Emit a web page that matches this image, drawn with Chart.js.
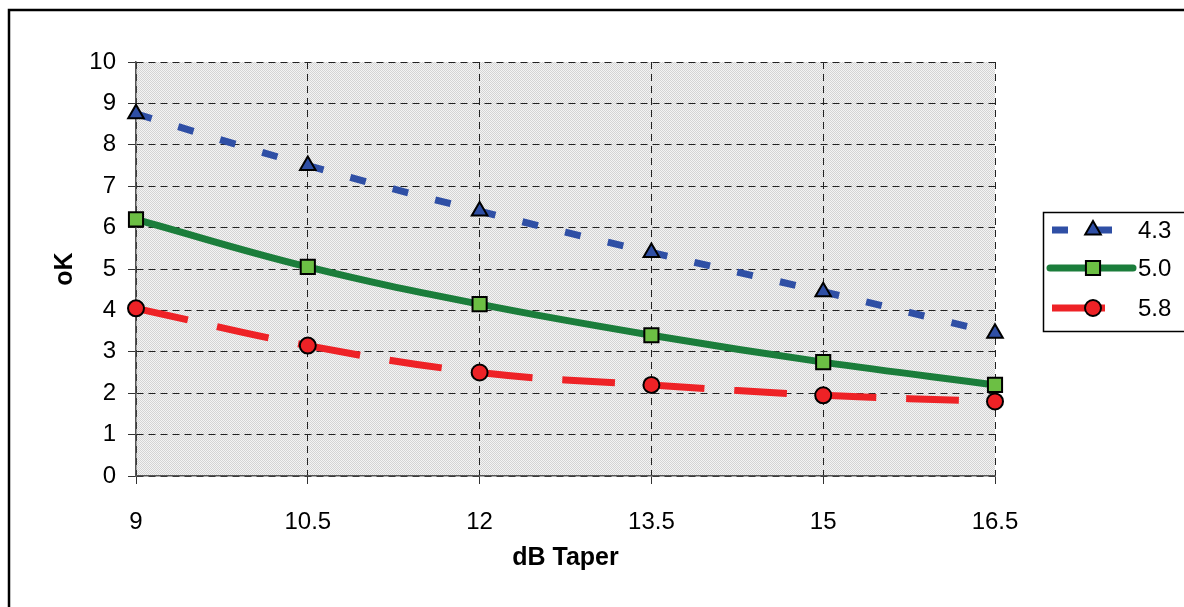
<!DOCTYPE html>
<html>
<head>
<meta charset="utf-8">
<script src="https://cdn.jsdelivr.net/npm/chart.js@4/dist/chart.umd.min.js"></script>
<style>
  html, body { margin: 0; padding: 0; background: #fff; }
  #wrap { position: relative; width: 1184px; height: 607px; }
</style>
</head>
<body>
<div id="wrap"><canvas id="chart" width="1184" height="607"></canvas></div>
<script>
// values
const taper = [9, 10.5, 12, 13.5, 15, 16.5];
const s43 = [8.75, 7.5, 6.4, 5.4, 4.45, 3.45];
const s50 = [6.2, 5.05, 4.15, 3.4, 2.75, 2.2];
const s58 = [4.05, 3.15, 2.5, 2.2, 1.95, 1.8];
const seriesNames = ['4.3', '5.0', '5.8'];
const yTicks = [0, 1, 2, 3, 4, 5, 6, 7, 8, 9, 10];

const FONT = '"Liberation Sans", Arial, sans-serif';

function pts(vals) {
    return vals.map((v, i) => ({ x: taper[i], y: v }));
}

// halftone-ish plot background
function makePattern(ctx) {
    const c = document.createElement('canvas');
    c.width = 2; c.height = 2;
    const p = c.getContext('2d');
    p.fillStyle = '#f4f4f4'; p.fillRect(0, 0, 2, 2);
    p.fillStyle = '#d4d4d4'; p.fillRect(0, 0, 1, 1); p.fillRect(1, 1, 1, 1);
    return ctx.createPattern(c, 'repeat');
}

// restart the dash at every point, like the original
const restartDash = { borderDashOffset: c => c.p0DataIndex * 0.001 };

const frame = {
    id: 'frame',
    beforeDraw(chart) {
        const { ctx, chartArea: a } = chart;
        ctx.save();
        ctx.fillStyle = makePattern(ctx);
        ctx.fillRect(a.left, a.top, a.right - a.left, a.bottom - a.top);
        ctx.strokeStyle = '#000';
        ctx.lineWidth = 2.5;
        ctx.beginPath();
        ctx.moveTo(9, 620);
        ctx.lineTo(9, 10);
        ctx.lineTo(1200, 10);
        ctx.stroke();
        ctx.restore();
    }
};

const sideLegend = {
    id: 'sideLegend',
    afterDraw(chart) {
        const ctx = chart.ctx;
        ctx.save();
        ctx.strokeStyle = '#000';
        ctx.lineWidth = 1.5;
        ctx.strokeRect(1043.5, 212.5, 160, 119);
        const rows = [230, 268, 308];
        chart.data.datasets.forEach((ds, i) => {
            const y = rows[i];
            ctx.save();
            ctx.strokeStyle = ds.borderColor;
            ctx.lineWidth = ds.borderWidth;
            ctx.setLineDash(ds.borderDash || []);
            ctx.lineCap = i === 1 ? 'round' : 'butt';
            ctx.beginPath();
            if (i === 1) { ctx.moveTo(1050, y); ctx.lineTo(1133, y); }
            else { ctx.moveTo(1052, y); ctx.lineTo(i === 0 ? 1114 : 1106, y); }
            ctx.stroke();
            ctx.restore();
            ctx.save();
            ctx.fillStyle = ds.pointBackgroundColor;
            ctx.strokeStyle = ds.pointBorderColor;
            ctx.lineWidth = ds.pointBorderWidth;
            Chart.helpers.drawPoint(ctx, {
                pointStyle: ds.pointStyle, radius: ds.pointRadius, rotation: 0, borderWidth: ds.pointBorderWidth
            }, 1093, y);
            ctx.restore();
            ctx.fillStyle = '#000';
            ctx.font = '24px ' + FONT;
            ctx.textBaseline = 'middle';
            ctx.fillText(ds.label, 1138, y + 1);
        });
        ctx.restore();
    }
};

new Chart(document.getElementById('chart'), {
    type: 'line',
    data: {
        datasets: [{
            label: seriesNames[0],
            data: pts(s43),
            borderColor: '#2f4fa5',
            borderWidth: 7,
            borderDash: [16, 28],
            segment: restartDash,
            tension: 0.4,
            pointStyle: 'triangle',
            pointRadius: 9,
            pointBackgroundColor: '#2f4fa5',
            pointBorderColor: '#000',
            pointBorderWidth: 2
        }, {
            label: seriesNames[1],
            data: pts(s50),
            borderColor: '#1b7d3b',
            borderWidth: 7,
            tension: 0.4,
            pointStyle: 'rect',
            pointRadius: 10,
            pointBackgroundColor: '#6cbf44',
            pointBorderColor: '#000',
            pointBorderWidth: 2
        }, {
            label: seriesNames[2],
            data: pts(s58),
            borderColor: '#ee2226',
            borderWidth: 7,
            borderDash: [53, 30],
            segment: restartDash,
            tension: 0.4,
            pointStyle: 'circle',
            pointRadius: 8,
            pointBackgroundColor: '#ee2226',
            pointBorderColor: '#000',
            pointBorderWidth: 2
        }]
    },
    options: {
        responsive: false,
        animation: false,
        clip: false,
        layout: { padding: { left: 50, top: 62, right: 189, bottom: 34 } },
        plugins: { legend: { display: false }, tooltip: { enabled: false } },
        scales: {
            x: {
                type: 'linear',
                min: taper[0],
                max: taper[taper.length - 1],
                afterBuildTicks: s => { s.ticks = taper.map(v => ({ value: v })); },
                afterFit: s => { s.height = 97; },
                grid: {
                    color: '#222', lineWidth: 1,
                    tickLength: 8, tickColor: '#333', tickBorderDash: []
                },
                border: { display: true, color: '#555', width: 1.5, dash: [7, 5] },
                ticks: { color: '#000', font: { family: FONT, size: 24 }, padding: 24, maxRotation: 0 },
                title: {
                    display: true, text: 'dB Taper', color: '#000',
                    font: { family: FONT, size: 25, weight: 'bold' }, padding: 0
                }
            },
            y: {
                min: 0,
                max: 10,
                afterBuildTicks: s => { s.ticks = yTicks.map(v => ({ value: v })); },
                afterFit: s => { s.width = 86; },
                grid: {
                    color: '#222', lineWidth: 1,
                    tickLength: 8, tickColor: '#333', tickBorderDash: []
                },
                border: { display: true, color: '#555', width: 1.5, dash: [7, 5] },
                ticks: { color: '#000', font: { family: FONT, size: 24 }, padding: 12 },
                title: {
                    display: true, text: 'oK', color: '#000',
                    font: { family: FONT, size: 25, weight: 'bold' }, padding: 0
                }
            }
        }
    },
    plugins: [frame, sideLegend]
});
</script>
</body>
</html>
